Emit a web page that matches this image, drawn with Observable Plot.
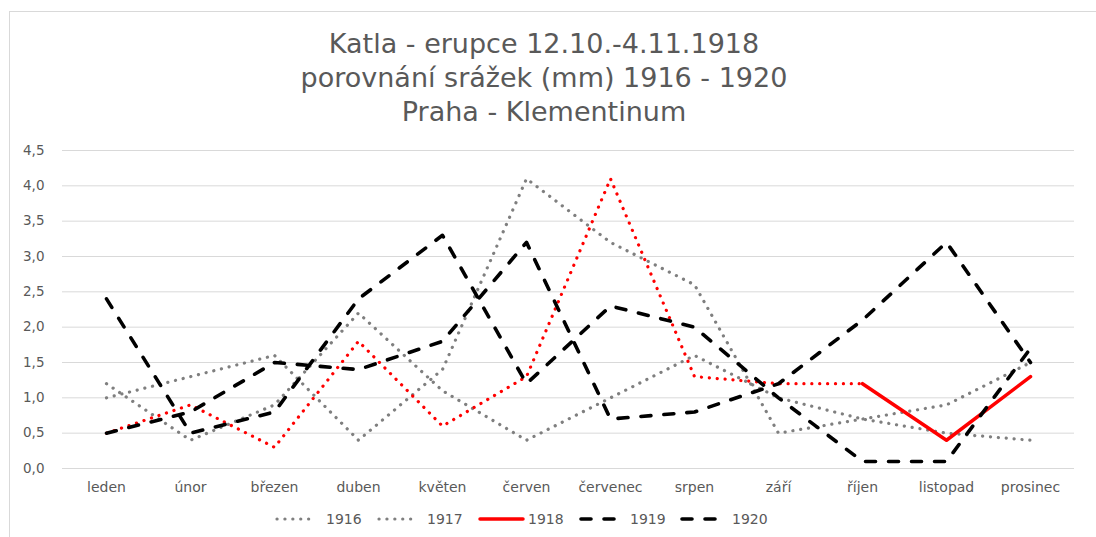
<!DOCTYPE html>
<html>
<head>
<meta charset="utf-8">
<script src="https://cdn.jsdelivr.net/npm/d3@7"></script>
<script src="https://cdn.jsdelivr.net/npm/@observablehq/plot@0.6"></script>
<style>
  html, body { margin: 0; padding: 0; background: #fff; }
  #wrap { position: relative; width: 1096px; height: 537px; overflow: hidden; font-family: "DejaVu Sans", sans-serif; color: #595959; }
  #border { position: absolute; left: 9px; top: 11px; width: 1200px; height: 700px; border: 1px solid #d9d9d9; box-sizing: border-box; }
  #title { position: absolute; top: 27px; left: 0; width: 1088px; text-align: center; font-size: 27px; line-height: 34px; }
  #chart { position: absolute; top: 140px; left: 0; }
  #legend { position: absolute; top: 498px; left: 0; }
</style>
</head>
<body>
<div id="wrap">
  <div id="border"></div>
  <div id="title"></div>
  <div id="chart"></div>
  <div id="legend"></div>
</div>
<script>
// ---- data ----
const titleLines = ["Katla - erupce 12.10.-4.11.1918", "porovnání srážek (mm) 1916 - 1920", "Praha - Klementinum"];
const months = ["leden","únor","březen","duben","květen","červen","červenec","srpen","září","říjen","listopad","prosinec"];
const years = ["1916","1917","1918","1919","1920"];
const v1916 = [1.0, 1.3, 1.6, 0.4, 1.4, 4.1, 3.2, 2.6, 0.5, 0.7, 0.9, 1.5];
const v1917 = [1.2, 0.4, 0.9, 2.2, 1.1, 0.4, 1.0, 1.6, 1.0, 0.7, 0.5, 0.4];
const v1918 = [0.5, 0.9, 0.3, 1.8, 0.6, 1.3, 4.1, 1.3, 1.2, 1.2, 0.4, 1.3];
const v1919 = [2.4, 0.5, 0.8, 2.4, 3.3, 1.2, 2.3, 2.0, 1.0, 0.1, 0.1, 1.7];
const v1920 = [0.5, 0.8, 1.5, 1.4, 1.8, 3.2, 0.7, 0.8, 1.2, 2.1, 3.2, 1.5];
const yTicks = [0, 0.5, 1, 1.5, 2, 2.5, 3, 3.5, 4, 4.5];

// ---- styles ----
const styles = {
  "1916": {stroke: "#7f7f7f", strokeWidth: 3.2, strokeDasharray: "0.1 7.8", strokeLinecap: "round"},
  "1917": {stroke: "#7f7f7f", strokeWidth: 3.2, strokeDasharray: "0.1 7.8", strokeLinecap: "round"},
  "1918dot": {stroke: "#ff0000", strokeWidth: 3.2, strokeDasharray: "0.1 7.8", strokeLinecap: "round"},
  "1918": {stroke: "#ff0000", strokeWidth: 3.5, strokeLinecap: "round"},
  "1919": {stroke: "#000000", strokeWidth: 3.6, strokeDasharray: "10 13", strokeLinecap: "round"},
  "1920": {stroke: "#000000", strokeWidth: 3.6, strokeDasharray: "10 13", strokeLinecap: "round"}
};

const seriesVals = [v1916, v1917, v1918, v1919, v1920];
const rows = [];
years.forEach((y, i) => seriesVals[i].forEach((v, j) => rows.push({year: y, month: months[j], mi: j, value: v})));
const of = y => rows.filter(d => d.year === y);

document.getElementById("title").innerHTML = titleLines.map(t => `<div>${t}</div>`).join("");

const fmt = d => d.toFixed(1).replace(".", ",");

const chart = Plot.plot({
  width: 1096,
  height: 358,
  marginTop: 10,
  marginBottom: 30,
  marginLeft: 62,
  marginRight: 22,
  style: {fontFamily: "DejaVu Sans, sans-serif", fontSize: "14px", color: "#595959", background: "transparent"},
  x: {type: "point", domain: months, padding: 0.5, align: 0.5, label: null},
  y: {domain: [0, 4.5], label: null},
  marks: [
    Plot.gridY(yTicks, {stroke: "#d9d9d9", strokeOpacity: 1, strokeWidth: 1}),
    Plot.axisY(yTicks, {tickSize: 0, tickPadding: 18, tickFormat: fmt, fill: "#595959", fontSize: 13.5, label: null}),
    Plot.axisX({tickSize: 0, tickPadding: 14, fill: "#595959", fontSize: 14, label: null}),
    Plot.lineY(of("1916"), {x: "month", y: "value", ...styles["1916"]}),
    Plot.lineY(of("1917"), {x: "month", y: "value", ...styles["1917"]}),
    Plot.lineY(of("1918").filter(d => d.mi <= 9), {x: "month", y: "value", ...styles["1918dot"]}),
    Plot.lineY(of("1918").filter(d => d.mi >= 9), {x: "month", y: "value", ...styles["1918"]}),
    Plot.lineY(of("1919"), {x: "month", y: "value", ...styles["1919"]}),
    Plot.lineY(of("1920"), {x: "month", y: "value", ...styles["1920"]})
  ]
});
document.getElementById("chart").appendChild(chart);

// ---- legend ----
const legendPos = [[275, 317, 326], [377, 418, 427], [478, 525, 528], [579, 622, 630], [680, 723, 732]];
const ns = "http://www.w3.org/2000/svg";
const lg = document.createElementNS(ns, "svg");
lg.setAttribute("width", 1096);
lg.setAttribute("height", 39);
years.forEach((y, i) => {
  const [x1, x2, tx] = legendPos[i];
  const st = styles[y];
  const ln = document.createElementNS(ns, "line");
  ln.setAttribute("x1", x1 + 2); ln.setAttribute("x2", x2 - 2);
  ln.setAttribute("y1", 21); ln.setAttribute("y2", 21);
  ln.setAttribute("stroke", st.stroke);
  ln.setAttribute("stroke-width", st.strokeWidth);
  ln.setAttribute("stroke-linecap", st.strokeLinecap);
  if (st.strokeDasharray) ln.setAttribute("stroke-dasharray", st.strokeDasharray);
  lg.appendChild(ln);
  const t = document.createElementNS(ns, "text");
  t.setAttribute("x", tx); t.setAttribute("y", 21);
  t.setAttribute("dy", "0.35em");
  t.setAttribute("fill", "#595959");
  t.setAttribute("font-size", 14);
  t.setAttribute("font-family", "DejaVu Sans, sans-serif");
  t.textContent = y;
  lg.appendChild(t);
});
document.getElementById("legend").appendChild(lg);
</script>
</body>
</html>
